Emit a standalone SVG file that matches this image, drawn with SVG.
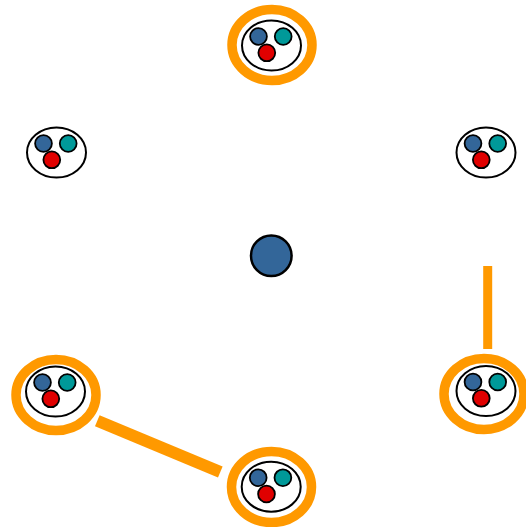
<svg xmlns="http://www.w3.org/2000/svg" xmlns:xlink="http://www.w3.org/1999/xlink" width="526" height="527" viewBox="0 0 526 527">
<style>
.ring{fill:none;stroke:#ff9900;stroke-width:9.5}
.shell{fill:#fff;stroke:#000;stroke-width:2}
.b{fill:#336699;stroke:#000;stroke-width:1.8}
.t{fill:#009999;stroke:#000;stroke-width:1.8}
.r{fill:#e00000;stroke:#000;stroke-width:1.8}
.link{stroke:#ff9900;fill:none;stroke-linecap:butt}
</style>
<defs>
<g id="cell">
<ellipse class="shell" cx="0" cy="0" rx="29.5" ry="25"/>
<circle class="b" cx="-13" cy="-9" r="8.4"/>
<circle class="t" cx="11.7" cy="-9" r="8.4"/>
<circle class="r" cx="-4.7" cy="7.3" r="8.4"/>
</g>
</defs>
<rect width="526" height="527" fill="#fff"/>
<g id="connectors">
<line class="link" x1="97.3" y1="420.8" x2="220.3" y2="472" stroke-width="12"/>
<line class="link" x1="487.7" y1="266" x2="487.7" y2="349" stroke-width="9"/>
</g>
<g id="node-top">
<ellipse class="ring" cx="272" cy="45" rx="40" ry="35.5"/>
<use xlink:href="#cell" transform="translate(271.5,45.5)"/>
</g>
<g id="node-left">
<use xlink:href="#cell" transform="translate(56.5,152.5)"/>
</g>
<g id="node-right">
<use xlink:href="#cell" transform="translate(486,152.5)"/>
</g>
<g id="node-center">
<circle cx="271.3" cy="255.7" r="20.3" fill="#336699" stroke="#000" stroke-width="2.5"/>
</g>
<g id="node-bottom-left">
<ellipse class="ring" cx="56" cy="395" rx="40" ry="35.5"/>
<use xlink:href="#cell" transform="translate(55.5,391.5)"/>
</g>
<g id="node-bottom-right">
<ellipse class="ring" cx="484" cy="394" rx="40" ry="35.5"/>
<use xlink:href="#cell" transform="translate(486,391)"/>
</g>
<g id="node-bottom">
<ellipse class="ring" cx="271.5" cy="487" rx="40" ry="35.5"/>
<use xlink:href="#cell" transform="translate(271.2,486.7)"/>
</g>
</svg>
